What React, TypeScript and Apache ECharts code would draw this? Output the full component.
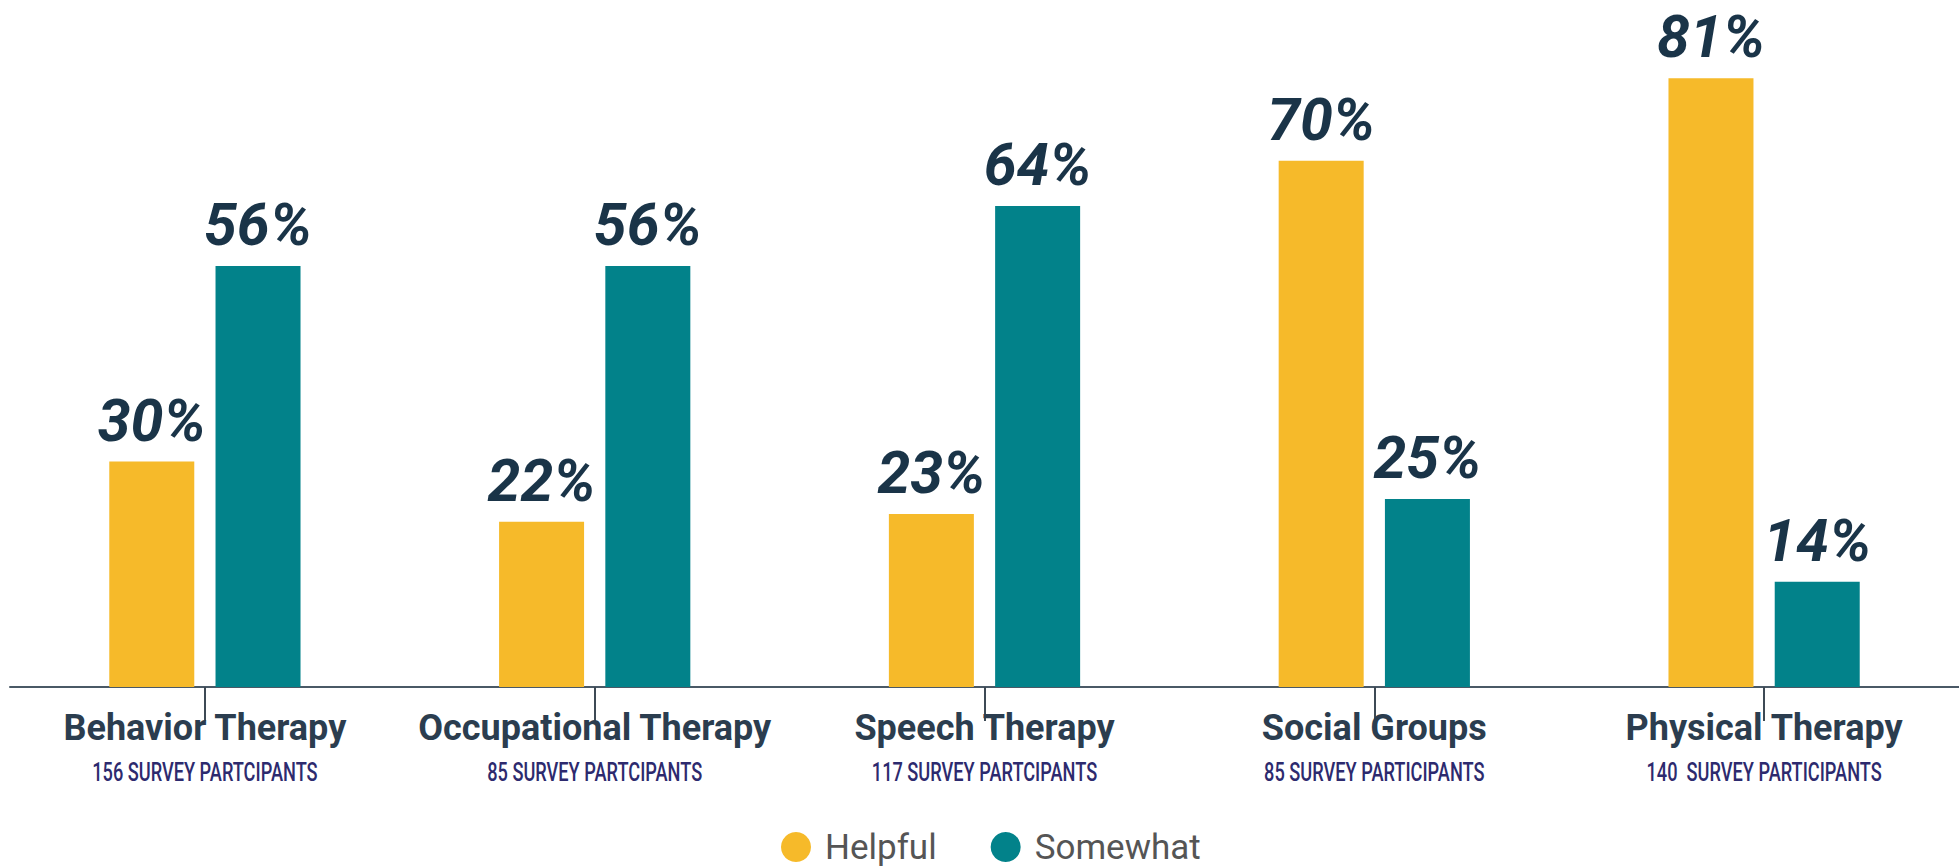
import React, { useEffect, useRef } from "react";
import * as echarts from "echarts";

const categories = ["Behavior Therapy", "Occupational Therapy", "Speech Therapy", "Social Groups", "Physical Therapy"];
const participants = [
  "156 SURVEY PARTCIPANTS",
  "85 SURVEY PARTCIPANTS",
  "117 SURVEY PARTCIPANTS",
  "85 SURVEY PARTICIPANTS",
  "140  SURVEY PARTICIPANTS",
];
const helpful = [30, 22, 23, 70, 81];
const somewhat = [56, 56, 64, 25, 14];

export default function App() {
  const ref = useRef<HTMLDivElement>(null);
  useEffect(() => {
    if (!ref.current) return;
    const chart = echarts.init(ref.current, null, { renderer: "svg" });
    const valueLabel = {
      show: true,
      position: "top",
      distance: 12,
      formatter: "{c}%",
      color: "#1a3448",
      fontFamily: "Roboto",
      fontWeight: "bold",
      fontStyle: "italic",
      fontSize: 59,
    };
    chart.setOption({
      animation: false,
      backgroundColor: "#ffffff",
      grid: { left: 10, right: -8, top: 0, bottom: 180, containLabel: false },
      legend: {
        left: 781,
        top: 829,
        padding: 0,
        icon: "circle",
        itemWidth: 30,
        itemHeight: 30,
        itemGap: 54,
        textStyle: { fontSize: 35, lineHeight: 36, color: "#555555", fontFamily: "Roboto", padding: [0, 0, 0, 9] },
        data: ["Helpful", "Somewhat"],
      },
      xAxis: {
        type: "category",
        data: categories,
        axisLine: { show: true, lineStyle: { color: "#4a5966", width: 2 } },
        axisTick: { show: true, alignWithLabel: true, length: 34, lineStyle: { color: "#3d4a55", width: 2 } },
        axisLabel: {
          margin: 19,
          interval: 0,
          formatter: (v: string) => `{a|${v}}`,
          rich: {
            a: { fontSize: 36, fontWeight: "bold", color: "#2b3d4f", fontFamily: "Roboto", lineHeight: 44 },
          },
        },
      },
      yAxis: { type: "value", min: 0, max: 91.4, show: false, splitLine: { show: false } },
      series: [
        {
          name: "Helpful",
          type: "bar",
          data: helpful,
          barWidth: 85,
          barGap: "25%",
          itemStyle: { color: "#F6BA2A" },
          label: valueLabel,
        },
        {
          name: "Somewhat",
          type: "bar",
          data: somewhat,
          barWidth: 85,
          itemStyle: { color: "#02828A" },
          label: valueLabel,
        },
      ],
    });
    const axisY = chart.convertToPixel({ yAxisIndex: 0 }, 0) as number;
    chart.setOption({
      graphic: participants.map((t, i) => ({
        type: "text",
        x: chart.convertToPixel({ xAxisIndex: 0 }, categories[i]) as number,
        y: axisY + 85,
        scaleX: 0.7,
        silent: true,
        style: {
          text: t,
          fontSize: 26,
          fontWeight: 500,
          fontFamily: "Roboto",
          fill: "#2d2a6e",
          align: "center",
          verticalAlign: "middle",
        },
      })),
    });
    return () => chart.dispose();
  }, []);
  return (
    <div
      ref={ref}
      style={{ position: "fixed", left: 0, top: 0, width: 1959, height: 867, background: "#fff" }}
    />
  );
}
